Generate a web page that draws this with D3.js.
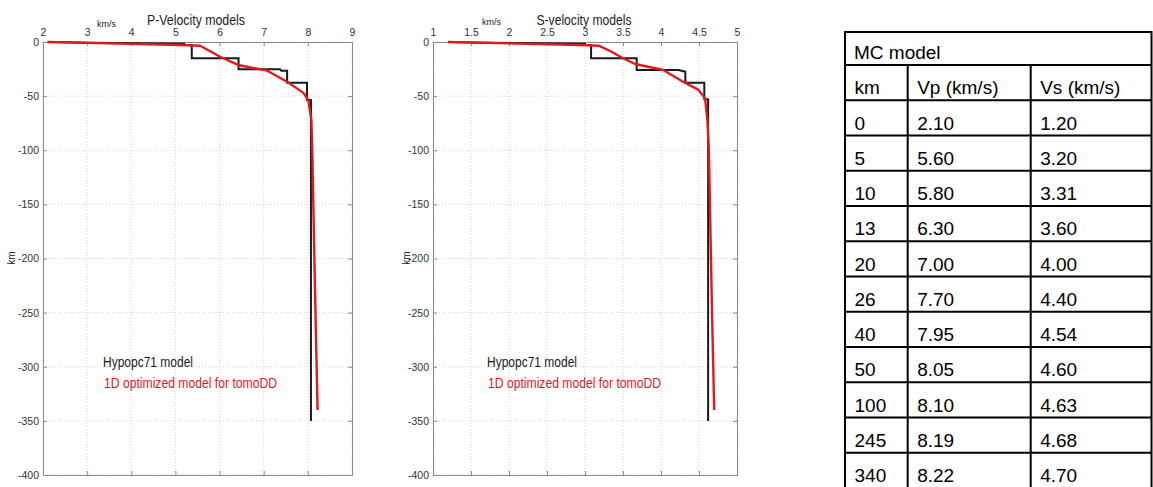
<!DOCTYPE html>
<html>
<head>
<meta charset="utf-8">
<script src="https://cdn.jsdelivr.net/npm/d3@7"></script>
<style>
  html, body { margin: 0; padding: 0; background: #fff; }
  svg { display: block; }
  text { font-family: "Liberation Sans", Arial, sans-serif; }
</style>
</head>
<body>
<svg id="chart" width="1153" height="487"></svg>
<script>
// ---- Hypopc71 reference model (stair-step), P and S, depth in km ----
const hypoPVel   = [2.30, 3.00, 5.20, 5.20, 5.37, 5.37, 6.43, 6.43, 7.37, 7.40, 7.53, 7.53, 7.98, 7.98, 8.07, 8.07];
const hypoPDepth = [0.0,  0.8,  1.5,  2.8,  2.8,  15.0, 15.0, 25.2, 25.2, 26.5, 26.5, 37.6, 37.6, 53.6, 53.6, 350];
const hypoSVel   = [1.20, 1.70, 3.00, 3.00, 3.08, 3.08, 3.68, 3.68, 4.23, 4.32, 4.32, 4.57, 4.57, 4.62, 4.62];
const hypoSDepth = [0.0,  0.8,  1.5,  2.8,  2.8,  15.0, 15.0, 25.9, 25.9, 27.4, 37.6, 37.6, 53.0, 53.0, 350];

// ---- 1D optimized model for tomoDD (smooth), P and S ----
const optPVel   = [2.10, 3.00, 5.11, 5.56, 5.83, 6.01, 6.42, 7.08, 7.53, 7.90, 8.01, 8.08, 8.10, 8.17, 8.22];
const optPDepth = [0.0,  0.8,  2.8,  3.4,  9.5,  13.6, 21.2, 26.5, 36.7, 47.0, 53.6, 72.0, 100,  245,  340];
const optSVel   = [1.20, 1.70, 2.93, 3.18, 3.35, 3.50, 3.66, 4.03, 4.29, 4.49, 4.58, 4.61, 4.63, 4.67, 4.70];
const optSDepth = [0.0,  0.8,  2.8,  3.4,  9.0,  15.0, 20.3, 25.9, 36.7, 44.0, 52.0, 72.0, 100,  245,  340];

// ---- axis ticks ----
const depthTicks = [0, -50, -100, -150, -200, -250, -300, -350, -400];
const pTicks = [2, 3, 4, 5, 6, 7, 8, 9];
const sTicks = [1, 1.5, 2, 2.5, 3, 3.5, 4, 4.5, 5];

// ---- MC model table ----
const tableTitle = "MC model";
const tableHeader = ["km", "Vp (km/s)", "Vs (km/s)"];
const tableKm = ["0", "5", "10", "13", "20", "26", "40", "50", "100", "245", "340"];
const tableVp = ["2.10", "5.60", "5.80", "6.30", "7.00", "7.70", "7.95", "8.05", "8.10", "8.19", "8.22"];
const tableVs = ["1.20", "3.20", "3.31", "3.60", "4.00", "4.40", "4.54", "4.60", "4.63", "4.68", "4.70"];

const legendNames = ["Hypopc71 model", "1D optimized model for tomoDD"];

const svg = d3.select("#chart");

function zip(v, d) { return v.map((x, i) => [x, d[i]]); }
const plain = d => String(d);

function drawPanel(cfg) {
  const g = svg.append("g");
  const x = d3.scaleLinear().domain(cfg.xDomain).range([cfg.left, cfg.right]);
  const y = d3.scaleLinear().domain([0, -400]).range([42, 475]);
  const [x0, x1] = x.range();
  const [y0, y1] = y.range();

  // dotted grid
  g.append("g").selectAll("line").data(cfg.xTicks).join("line")
    .attr("x1", d => x(d)).attr("x2", d => x(d)).attr("y1", y0).attr("y2", y1)
    .attr("stroke", "#c8c8c8").attr("stroke-width", 0.8).attr("stroke-dasharray", "1,2");
  g.append("g").selectAll("line").data(depthTicks).join("line")
    .attr("x1", x0).attr("x2", x1).attr("y1", d => y(d)).attr("y2", d => y(d))
    .attr("stroke", "#c8c8c8").attr("stroke-width", 0.8).attr("stroke-dasharray", "1,2");

  // axes with inward ticks on all four sides
  const top = g.append("g").attr("transform", `translate(0,${y0})`)
    .call(d3.axisTop(x).tickValues(cfg.xTicks).tickSize(-4).tickPadding(6).tickFormat(plain));
  const bottom = g.append("g").attr("transform", `translate(0,${y1})`)
    .call(d3.axisBottom(x).tickValues(cfg.xTicks).tickSize(-4).tickFormat(""));
  const left = g.append("g").attr("transform", `translate(${x0},0)`)
    .call(d3.axisLeft(y).tickValues(depthTicks).tickSize(-4).tickPadding(4).tickFormat(plain));
  const right = g.append("g").attr("transform", `translate(${x1},0)`)
    .call(d3.axisRight(y).tickValues(depthTicks).tickSize(-4).tickFormat(""));
  [top, bottom, left, right].forEach(a => {
    a.select(".domain").attr("stroke", "#8a8a8a");
    a.selectAll(".tick line").attr("stroke", "#8a8a8a");
    a.selectAll(".tick text").attr("fill", "#333").attr("font-size", 10.5)
      .attr("font-family", "'Liberation Sans Narrow','Arial Narrow','Liberation Sans',sans-serif");
  });

  // model curves
  const line = d3.line().x(d => x(d[0])).y(d => y(-d[1]));
  g.append("path").datum(zip(cfg.hypoV, cfg.hypoD)).attr("d", line)
    .attr("fill", "none").attr("stroke", "#1a1a1a").attr("stroke-width", 2);
  g.append("path").datum(zip(cfg.optV, cfg.optD)).attr("d", line)
    .attr("fill", "none").attr("stroke", "#e01a1a").attr("stroke-width", 2.4)
    .attr("stroke-linejoin", "round");

  // titles and labels
  g.append("text").attr("x", cfg.titleX).attr("y", 25).attr("text-anchor", "middle")
    .attr("font-size", 14).attr("fill", "#222")
    .attr("textLength", cfg.titleW).attr("lengthAdjust", "spacingAndGlyphs").text(cfg.title);
  g.append("text").attr("x", cfg.unitX).attr("y", cfg.unitY).attr("font-size", 9)
    .attr("fill", "#222").attr("textLength", 19).attr("lengthAdjust", "spacingAndGlyphs").text("km/s");
  g.append("text").attr("transform", `translate(${cfg.kmX},258) rotate(-90)`)
    .attr("text-anchor", "middle").attr("font-size", 10).attr("fill", "#222").text("km");

  // legend
  g.append("text").attr("x", cfg.legX).attr("y", 367).attr("font-size", 14.5).attr("fill", "#1a1a1a")
    .attr("textLength", 90).attr("lengthAdjust", "spacingAndGlyphs").text(legendNames[0]);
  g.append("text").attr("x", cfg.legX + 1).attr("y", 388).attr("font-size", 14.5).attr("fill", "#e01a1a")
    .attr("textLength", 173).attr("lengthAdjust", "spacingAndGlyphs").text(legendNames[1]);
}

drawPanel({
  xDomain: [2, 9], left: 43, right: 352, xTicks: pTicks,
  hypoV: hypoPVel, hypoD: hypoPDepth, optV: optPVel, optD: optPDepth,
  title: "P-Velocity models", titleX: 196, titleW: 98,
  unitX: 97, unitY: 27, kmX: 15, legX: 103
});
drawPanel({
  xDomain: [1, 5], left: 433, right: 737, xTicks: sTicks,
  hypoV: hypoSVel, hypoD: hypoSDepth, optV: optSVel, optD: optSDepth,
  title: "S-velocity models", titleX: 584, titleW: 95,
  unitX: 482, unitY: 25, kmX: 410, legX: 487
});

// ---- table ----
const tbl = svg.append("g");
const colX = [845, 907.7, 1030.7, 1151.5];
const rowTop = 32, titleBottom = 65, rowH = 35.25;
const rows = [tableHeader].concat(tableKm.map((k, i) => [k, tableVp[i], tableVs[i]]));
const rowY = d3.scaleLinear().domain([0, 1]).range([titleBottom, titleBottom + rowH]);

// title row
tbl.append("text").attr("x", colX[0] + 9).attr("y", titleBottom - 6)
  .attr("font-size", 19).attr("fill", "#000").text(tableTitle);
// body rows
rows.forEach((r, i) => {
  r.forEach((c, j) => {
    tbl.append("text").attr("x", colX[j] + 9.5).attr("y", rowY(i + 1) - 6)
      .attr("font-size", 19).attr("fill", "#000").text(c);
  });
});
// grid lines
const bottomY = rowY(rows.length);
tbl.append("rect").attr("x", colX[0]).attr("y", rowTop).attr("width", colX[3] - colX[0])
  .attr("height", bottomY - rowTop).attr("fill", "none").attr("stroke", "#000").attr("stroke-width", 2);
d3.range(0, rows.length).forEach(i => {
  tbl.append("line").attr("x1", colX[0]).attr("x2", colX[3])
    .attr("y1", rowY(i)).attr("y2", rowY(i)).attr("stroke", "#000").attr("stroke-width", 2);
});
[colX[1], colX[2]].forEach(cx => {
  tbl.append("line").attr("x1", cx).attr("x2", cx).attr("y1", titleBottom).attr("y2", bottomY)
    .attr("stroke", "#000").attr("stroke-width", 2);
});
</script>
</body>
</html>
